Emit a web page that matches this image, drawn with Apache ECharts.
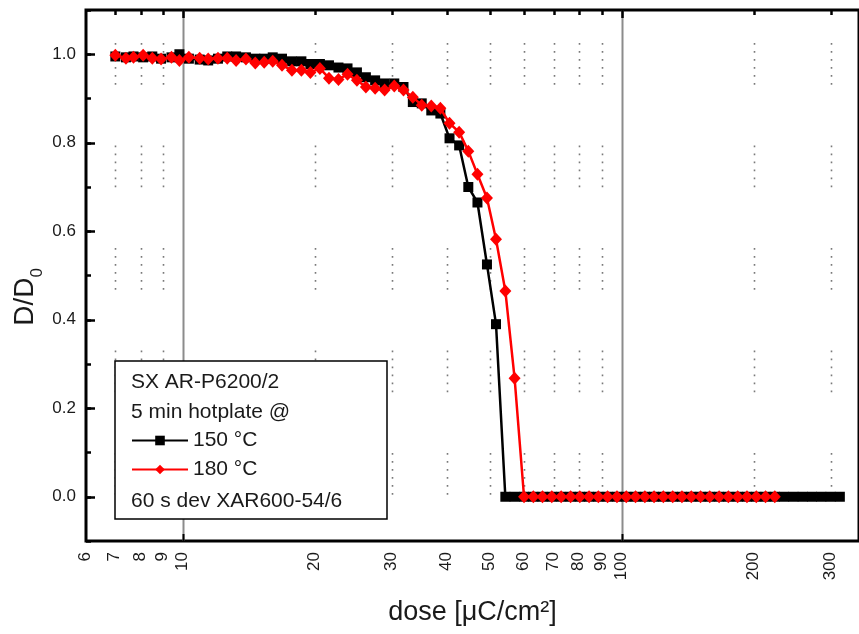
<!DOCTYPE html>
<html><head><meta charset="utf-8">
<script src="https://cdn.jsdelivr.net/npm/echarts/dist/echarts.min.js"></script>
<style>html,body{margin:0;padding:0;background:#fff}#c{width:859px;height:634px}</style>
</head><body><div id="c"></div><script>
// ---- data ----
const doses150 = [7.0,7.4,7.7,8.1,8.5,8.9,9.4,9.8,10.3,10.9,11.4,12.0,12.6,13.2,13.9,14.6,15.3,16.0,16.8,17.7,
  18.6,19.5,20.5,21.5,22.6,23.7,24.9,26.1,27.4,28.8,30.3,31.8,33.4,35.0,36.8,38.6,40.5,42.6,44.7,46.9,
  49.3,51.7,54.3,57.0,59.9,62.9,66.0,69.3,72.8,76.5,80.3,84.3,88.5,92.9,97.6,102.5,107.6,113.0,118.6,124.5,
  130.8,137.3,144.2,151.4,158.9,166.9,175.2,184.0,193.2,202.9,213.0,223.6,234.8,246.6,258.9,271.8,285.4,299.7,314.7];
const dd150 = [0.995,0.993,0.995,0.993,0.995,0.990,0.993,1.000,0.990,0.988,0.986,0.990,0.995,0.995,0.993,0.990,0.990,0.993,0.990,0.984,
  0.984,0.978,0.978,0.975,0.970,0.968,0.959,0.948,0.941,0.934,0.934,0.926,0.892,0.889,0.873,0.866,0.810,0.794,0.700,0.665,
  0.525,0.390,0,0,0,0,0,0,0,0,0,0,0,0,0,0,0,0,0,0,
  0,0,0,0,0,0,0,0,0,0,0,0,0,0,0,0,0,0,0];
const doses180 = [7.0,7.4,7.7,8.1,8.5,8.9,9.4,9.8,10.3,10.9,11.4,12.0,12.6,13.2,13.9,14.6,15.3,16.0,16.8,17.7,
  18.6,19.5,20.5,21.5,22.6,23.7,24.9,26.1,27.4,28.8,30.3,31.8,33.4,35.0,36.8,38.6,40.5,42.6,44.7,46.9,
  49.3,51.7,54.3,57.0,59.9,62.9,66.0,69.3,72.8,76.5,80.3,84.3,88.5,92.9,97.6,102.5,107.6,113.0,118.6,124.5,
  130.8,137.3,144.2,151.4,158.9,166.9,175.2,184.0,193.2,202.9,213.0,223.6];
const dd180 = [0.998,0.991,0.993,0.998,0.991,0.989,0.993,0.986,0.993,0.991,0.989,0.991,0.991,0.986,0.989,0.980,0.982,0.984,0.975,0.964,
  0.964,0.959,0.968,0.946,0.943,0.955,0.941,0.926,0.923,0.919,0.928,0.919,0.903,0.885,0.883,0.878,0.844,0.824,0.781,0.729,
  0.675,0.582,0.465,0.268,0,0,0,0,0,0,0,0,0,0,0,0,0,0,0,0,
  0,0,0,0,0,0,0,0,0,0,0,0];
const seriesNames = ['150 °C', '180 °C'];
const xTickValues = [6,7,8,9,10,20,30,40,50,60,70,80,90,100,200,300];
const xTickLabels = ['6','7','8','9','10','20','30','40','50','60','70','80','90','100','200','300'];
const xMajorValues = [10,100];
const yMajorValues = [0,0.2,0.4,0.6,0.8,1.0];
const legendLines = ['SX AR-P6200/2', '5 min hotplate @', '60 s dev XAR600-54/6'];
const xTitle = 'dose [μC/cm²]';
const xMin = 6, xMax = 348, yMin = -0.1, yMax = 1.1;

const FONT = '"Liberation Sans", Arial, sans-serif';
const zip = (a, b) => a.map((v, i) => [v, b[i]]);

function renderXDecor(params, api) {
  const cs = params.coordSys;
  const v = api.value(0);
  const idx = api.value(1);
  const px = Math.round(api.coord([v, 0])[0]) + 0.5;
  const top = cs.y, bottom = cs.y + cs.height;
  const major = xMajorValues.indexOf(v) >= 0;
  const ch = [];
  if (major) {
    ch.push({type:'line', shape:{x1:px, y1:top, x2:px, y2:bottom}, style:{stroke:'#8c8c8c', lineWidth:2}});
    ch.push({type:'line', shape:{x1:px, y1:bottom, x2:px, y2:bottom-7}, style:{stroke:'#000', lineWidth:2}});
  } else if (v > xMin) {
    ch.push({type:'line', shape:{x1:px, y1:top+33, x2:px, y2:bottom},
      style:{stroke:'#7a7a7a', lineWidth:1.6, lineDash:[1.8,6.2,1.8,6.2,1.8,6.2,1.8,6.2,1.8,6.2,1.8,60.7]}});
  }
  if (v > xMin) ch.push({type:'line', shape:{x1:px, y1:top, x2:px, y2:top+(major?8:5)}, style:{stroke:'#000', lineWidth:2.5}});
  ch.push({type:'text', x:px - 1, y:bottom+11, rotation:Math.PI/2,
    style:{text:xTickLabels[idx], align:'right', verticalAlign:'middle', fontSize:17, fontFamily:FONT, fill:'#1a1a1a'}});
  return {type:'group', children:ch};
}
function renderYDecor(params, api) {
  const cs = params.coordSys;
  const py = Math.round(api.coord([xMin, api.value(1)])[1]) + 0.5;
  return {type:'line', shape:{x1:cs.x, y1:py, x2:cs.x+9, y2:py}, style:{stroke:'#000', lineWidth:2.5}};
}

const chart = echarts.init(document.getElementById('c'));
chart.setOption({
  animation: false,
  backgroundColor: '#fff',
  grid: {left: 86, right: -3, top: 10, bottom: 93, show: true, borderColor: '#000', borderWidth: 3, backgroundColor: 'transparent'},
  xAxis: {type: 'log', logBase: 10, min: xMin, max: xMax,
    axisLine: {show: false}, axisTick: {show: false}, axisLabel: {show: false}, splitLine: {show: false},
    name: xTitle, nameLocation: 'middle', nameGap: 58,
    nameTextStyle: {fontSize: 27, fontFamily: FONT, color: '#1a1a1a'}},
  yAxis: {type: 'value', min: yMin, max: yMax, interval: 0.1,
    axisLine: {show: false},
    axisTick: {show: true, inside: true, length: 5, lineStyle: {color: '#000', width: 2.5}},
    axisLabel: {margin: 10, fontSize: 17, fontFamily: FONT, color: '#1a1a1a',
      formatter: v => { const t = Math.round(v * 10); return (t >= 0 && t <= 10 && t % 2 === 0) ? (t / 10).toFixed(1) : ''; }},
    splitLine: {show: false}},
  legend: {orient: 'vertical', left: 131, top: 430, padding: 0, itemWidth: 56, itemHeight: 12, itemGap: 8, z: 60,
    data: seriesNames, selectedMode: false,
    textStyle: {fontSize: 21, fontFamily: FONT, color: '#1a1a1a'}},
  graphic: [
    {type: 'rect', z: 50, shape: {x: 115, y: 361, width: 272, height: 158}, style: {fill: '#fff', stroke: '#000', lineWidth: 1.5}},
    {type: 'text', z: 51, x: 131, y: 382, style: {text: legendLines[0], fontSize: 21, fontFamily: FONT, fill: '#1a1a1a', verticalAlign: 'middle'}},
    {type: 'text', z: 51, x: 131, y: 412, style: {text: legendLines[1], fontSize: 21, fontFamily: FONT, fill: '#1a1a1a', verticalAlign: 'middle'}},
    {type: 'text', z: 51, x: 131, y: 501, style: {text: legendLines[2], fontSize: 21, fontFamily: FONT, fill: '#1a1a1a', verticalAlign: 'middle'}},
    {type: 'text', z: 51, x: 25, y: 297, rotation: Math.PI / 2,
      style: {text: '{a|D/D}{b|0}', align: 'center', verticalAlign: 'middle', fill: '#1a1a1a',
        rich: {a: {fontSize: 28, fontFamily: FONT, lineHeight: 42, fill: '#1a1a1a'},
               b: {fontSize: 17, fontFamily: FONT, lineHeight: 12, verticalAlign: 'bottom', fill: '#1a1a1a'}}}}
  ],
  series: [
    {type: 'custom', name: 'xdecor', silent: true, z: 1, renderItem: renderXDecor,
      data: xTickValues.map((v, i) => [v, i]), encode: {x: 0}},
    {type: 'custom', name: 'ydecor', silent: true, z: 1, renderItem: renderYDecor,
      data: yMajorValues.map(v => [xMin, v]), encode: {x: 0, y: 1}},
    {type: 'line', name: seriesNames[0], data: zip(doses150, dd150), z: 3,
      symbol: 'rect', symbolSize: 10, itemStyle: {color: '#000'}, lineStyle: {color: '#000', width: 2.5}},
    {type: 'line', name: seriesNames[1], data: zip(doses180, dd180), z: 4,
      symbol: 'diamond', symbolSize: [12, 13], itemStyle: {color: '#ff0000'}, lineStyle: {color: '#ff0000', width: 2.5}}
  ]
});
</script></body></html>
